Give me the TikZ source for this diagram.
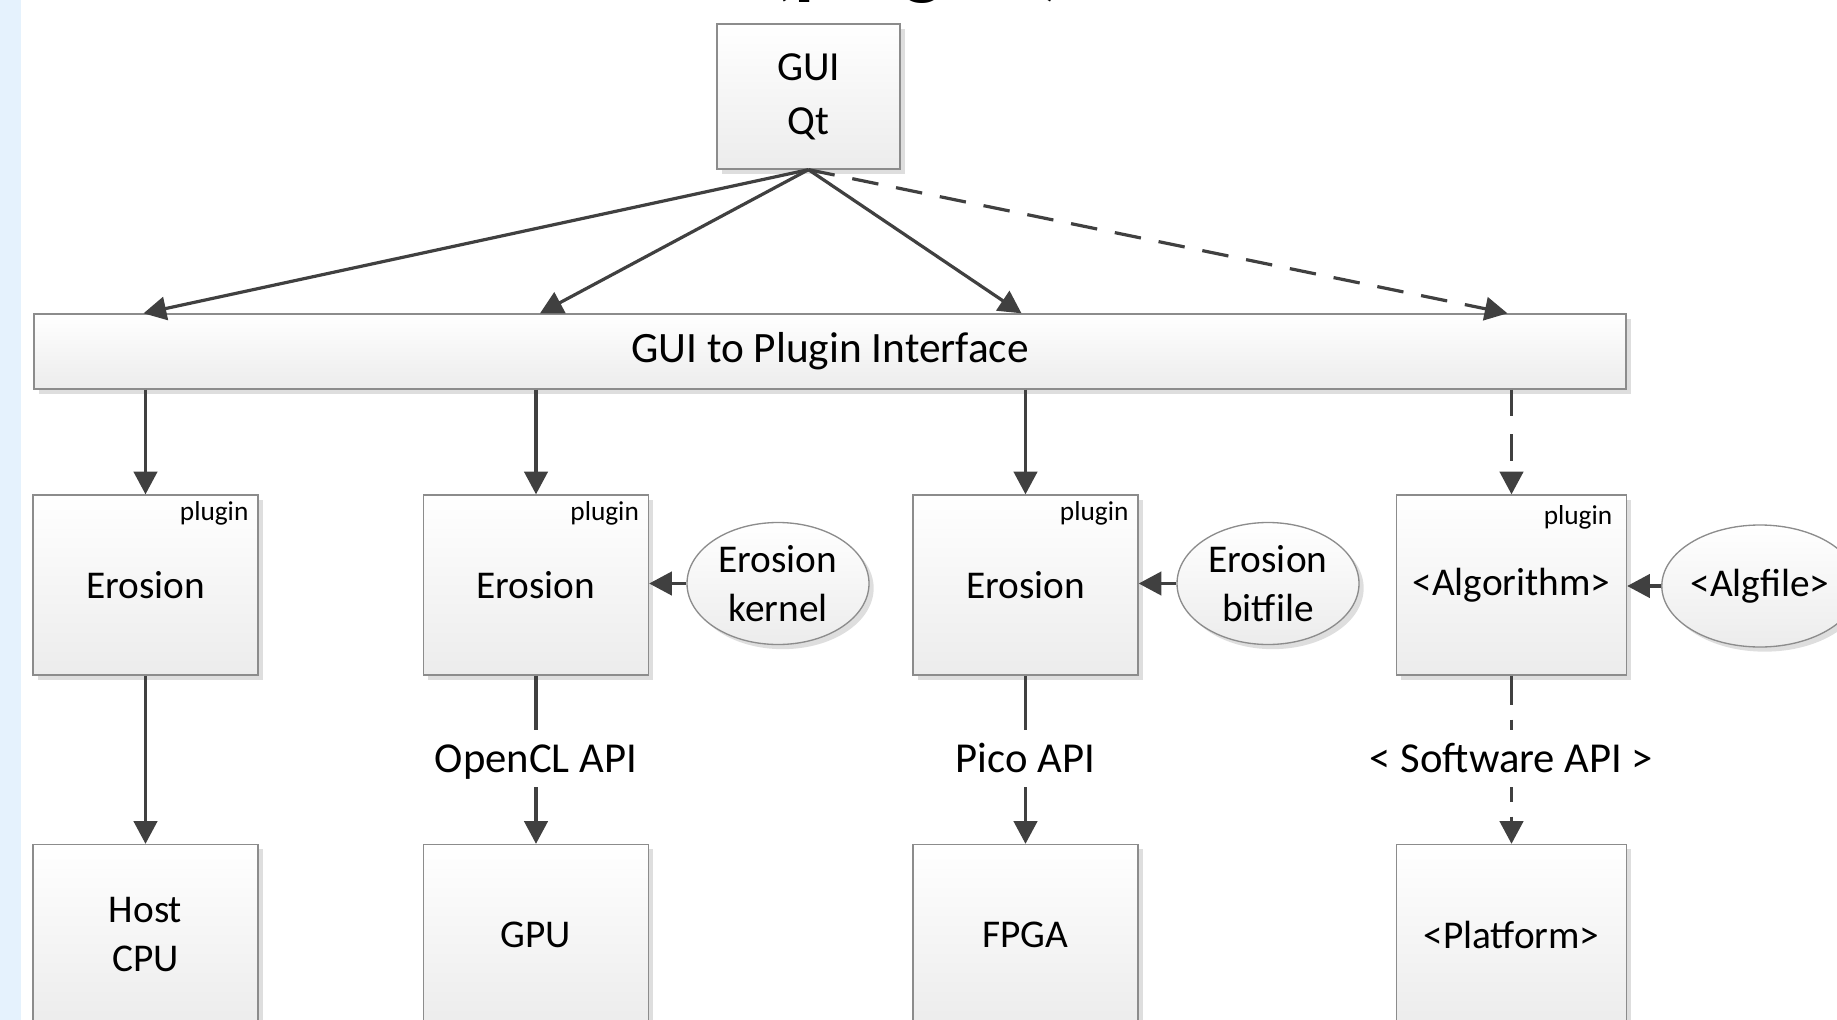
\documentclass[tikz,border=0pt]{standalone}
\usepackage{fontspec}
\setmainfont{Carlito}
\usetikzlibrary{arrows.meta,shapes.geometric,shadows}

\definecolor{arrowgray}{HTML}{404040}
\definecolor{edgegray}{HTML}{8C8C8C}
\definecolor{boxbottom}{HTML}{ECECEC}
\definecolor{sidebar}{HTML}{E5F2FD}

\begin{document}
\begin{tikzpicture}[x=0.75pt,y=-0.75pt,
  every node/.style={inner sep=0pt},
  shadebox/.style={draw=edgegray, line width=1pt, top color=white, bottom color=boxbottom,
    drop shadow={shadow xshift=3.5pt, shadow yshift=-3.5pt, fill=black!13, opacity=1}},
  blockfont/.style={font=\fontsize{29.5}{37}\selectfont},
  block/.style={shadebox, rectangle, minimum width=168.75pt, minimum height=135pt,
    align=center, blockfont},
  widebox/.style={block, minimum width=172.5pt},
  guibox/.style={shadebox, rectangle, minimum width=137.25pt, minimum height=108.75pt,
    align=center, font=\fontsize{31}{40.5}\selectfont},
  barbox/.style={shadebox, rectangle, minimum width=1194pt, minimum height=56.25pt,
    font=\fontsize{32.5}{38}\selectfont},
  datafile/.style={shadebox, ellipse, minimum width=136.5pt, minimum height=91.5pt,
    align=center, blockfont},
  tag/.style={anchor=north east, font=\fontsize{20.5}{24}\selectfont},
  apilabel/.style={minimum height=42.75pt, text height=20.5pt, text depth=0pt,
    font=\fontsize{32}{38}\selectfont},
  link/.style={draw=arrowgray, line width=2.4pt},
  arrow/.style={link, -{Triangle[length=17pt,width=17.5pt]}},
  farlink/.style={dash pattern=on 20pt off 13.5pt},
  apilink/.style={dash pattern=on 11pt off 11pt}
]
\useasboundingbox (0,0) rectangle (1837,1020);
\clip (0,0) rectangle (1837,1020);

% side strip of the page
\fill[sidebar] (0,0) rectangle (21,1020);

% heading, mostly above the visible area
\node[anchor=base west, font=\fontsize{62}{66}\bfseries\selectfont] (title) at (768,-10) {(plugins)};

% front end and interface layer
\node[guibox] (gui) at (808.5,96.5) {GUI\\Qt};
\node[barbox] (bar) at (830,351.5) {GUI to Plugin Interface};

% plugin row
\node[block] (p1) at (145.5,585) {Erosion};
\node[block] (p2) at (536,585) {Erosion};
\node[block] (p3) at (1025.5,585) {Erosion};
\node[widebox] (p4) at (1511.5,585) {<Algorithm>};
\foreach \p in {p1,p2,p3}
  \node[tag] at ([xshift=-7.5pt,yshift=-5pt]\p.north east) {plugin};
\node[tag] at ([xshift=-11pt,yshift=-8pt]p4.north east) {plugin};

% input files of the plugins
\node[datafile] (e2) at (778,583.5) {Erosion\\kernel};
\node[datafile] (e3) at (1268,583.5) {Erosion\\bitfile};
\node[datafile] (e4) at (1760,586) {<Algfile>};

% hardware row
\node[block] (h1) at (145.5,934.5) {Host\\CPU};
\node[block] (h2) at (536,934.5) {GPU};
\node[block] (h3) at (1025.5,934.5) {FPGA};
\node[widebox] (h4) at (1511.5,934.5) {<Platform>};

% API labels between plugins and hardware
\node[apilabel] (a2) at (536,758.5) {OpenCL API};
\node[apilabel] (a3) at (1025.5,758.5) {Pico API};
\node[apilabel] (a4) at (1511.5,758.5) {< Software API >};

% GUI to interface
\draw[arrow] (gui.south) -- ([xshift=-1.5pt]p1.north |- bar.north);
\draw[arrow] (gui.south) -- ([xshift=3pt]p2.north |- bar.north);
\draw[arrow] (gui.south) -- ([xshift=-3pt]p3.north |- bar.north);
\draw[arrow, farlink] (gui.south) -- ([xshift=-3pt]p4.north |- bar.north);

% interface to plugins
\draw[arrow] (bar.south -| p1.north) -- (p1.north);
\draw[arrow] (bar.south -| p2.north) -- (p2.north);
\draw[arrow] (bar.south -| p3.north) -- (p3.north);
\draw[arrow, farlink] (bar.south -| p4.north) -- (p4.north);

% files into plugins
\draw[arrow] (e2.west) -- (e2.west -| p2.east);
\draw[arrow] (e3.west) -- (e3.west -| p3.east);
\draw[arrow] (e4.west) -- (e4.west -| p4.east);

% plugins to hardware
\draw[arrow] (p1.south) -- (h1.north);
\draw[link] (p2.south) -- (a2.north);
\draw[arrow] (a2.south) -- (h2.north);
\draw[link] (p3.south) -- (a3.north);
\draw[arrow] (a3.south) -- (h3.north);
\draw[link, dash pattern=on 22pt off 11pt on 11pt off 11pt] (p4.south) -- (a4.north);
\draw[arrow, apilink] (a4.south) -- (h4.north);
\end{tikzpicture}
\end{document}
